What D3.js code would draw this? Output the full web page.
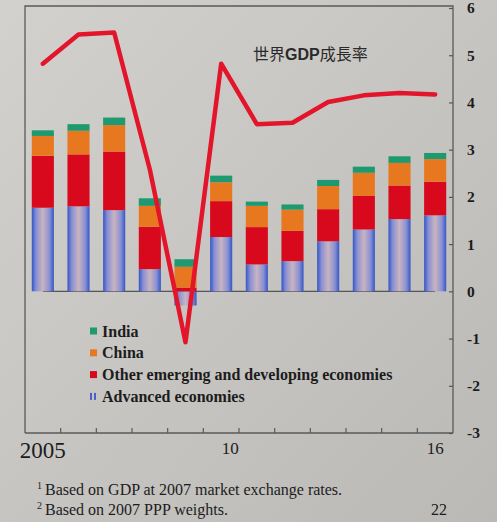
<!DOCTYPE html>
<html>
<head>
<meta charset="UTF-8"/>
<title>世界GDP成長率</title>
<script src="https://cdn.jsdelivr.net/npm/d3@7"></script>
<style>
body { margin: 0; background: #c4c2bf; }
svg { display: block; }
.serif { font-family: 'Liberation Serif', 'DejaVu Serif', serif; fill: #1c1c1c; }
.yaxis text { font-family: 'Liberation Serif', serif; font-weight: bold; font-size: 15.5px; fill: #1c1c1c; }
.yaxis line { stroke: #555; stroke-width: 1.2; }
.legend text { font-family: 'Liberation Serif', serif; font-weight: bold; font-size: 16px; fill: #1c1c1c; }
.title { font-family: 'Noto Sans CJK JP', 'Noto Sans', sans-serif; font-size: 16px; fill: #2a2a2a; }
</style>
</head>
<body>
<svg id="chart" width="497" height="522"></svg>
<script>
// data
const years = [2005, 2006, 2007, 2008, 2009, 2010, 2011, 2012, 2013, 2014, 2015, 2016];
const advanced = [1.77, 1.80, 1.72, 0.47, -0.30, 1.15, 0.57, 0.64, 1.06, 1.31, 1.53, 1.61];
const otherEm  = [1.10, 1.10, 1.24, 0.90, 0.08, 0.76, 0.79, 0.64, 0.68, 0.71, 0.71, 0.71];
const china    = [0.42, 0.50, 0.56, 0.44, 0.44, 0.40, 0.45, 0.45, 0.49, 0.49, 0.48, 0.48];
const india    = [0.12, 0.14, 0.16, 0.16, 0.16, 0.14, 0.09, 0.11, 0.13, 0.13, 0.14, 0.13];
const worldGdp = [4.82, 5.44, 5.48, 2.58, -1.08, 4.82, 3.54, 3.57, 4.01, 4.15, 4.20, 4.17];
const xTickLabels = ['2005', '', '', '', '', '10', '', '', '', '', '', '16'];
const yTicks = [-3, -2, -1, 0, 1, 2, 3, 4, 5, 6];
const seriesNames = ['Advanced economies', 'Other emerging and developing economies', 'China', 'India'];
const legendOrder = ['India', 'China', 'Other emerging and developing economies', 'Advanced economies'];

const svg = d3.select('#chart');
const W = 497, H = 522;
const frameL = 25, frameR = 453, frameT = 6, frameB = 433;

const defs = svg.append('defs');
const bg = defs.append('linearGradient').attr('id', 'bg')
  .attr('x1', '0%').attr('y1', '0%').attr('x2', '100%').attr('y2', '100%');
bg.append('stop').attr('offset', '0%').attr('stop-color', '#d3d1ce');
bg.append('stop').attr('offset', '100%').attr('stop-color', '#bbb9b6');

const adv = defs.append('linearGradient').attr('id', 'adv')
  .attr('x1', '0%').attr('x2', '100%').attr('y1', '0%').attr('y2', '0%');
[['0%', '#3356c6'], ['20%', '#8a90d4'], ['50%', '#c9b4c0'], ['80%', '#8a90d4'], ['100%', '#3356c6']]
  .forEach(s => adv.append('stop').attr('offset', s[0]).attr('stop-color', s[1]));

svg.append('rect').attr('width', W).attr('height', H).attr('fill', 'url(#bg)');

const colors = {
  'Advanced economies': 'url(#adv)',
  'Other emerging and developing economies': '#d8091c',
  'China': '#e8781f',
  'India': '#1f9a70'
};

const x = d3.scaleBand()
  .domain(years)
  .range([frameL, frameR])
  .paddingInner(0.38)
  .paddingOuter(0.19);

const y = d3.scaleLinear()
  .domain([-3, 6])
  .range([433, 8]);

const step = x.step();
const cx = d => x(d) + x.bandwidth() / 2;

// stacked data
const table = years.map((yr, i) => ({
  year: yr,
  'Advanced economies': advanced[i],
  'Other emerging and developing economies': otherEm[i],
  'China': china[i],
  'India': india[i]
}));
const stacked = d3.stack().keys(seriesNames).offset(d3.stackOffsetDiverging)(table);

// zero line from first to last bar centre
svg.append('line')
  .attr('x1', cx(years[0])).attr('x2', cx(years[years.length - 1]))
  .attr('y1', y(0)).attr('y2', y(0))
  .attr('stroke', '#555').attr('stroke-width', 1.2);

svg.append('g').selectAll('g')
  .data(stacked)
  .join('g')
  .attr('fill', d => colors[d.key])
  .selectAll('rect')
  .data(d => d)
  .join('rect')
  .attr('x', d => x(d.data.year))
  .attr('width', x.bandwidth())
  .attr('y', d => y(Math.max(d[0], d[1])))
  .attr('height', d => Math.abs(y(d[0]) - y(d[1])));

// frame
svg.append('path')
  .attr('d', `M${frameL},${frameB}V${frameT}H${frameR}V${frameB}`)
  .attr('fill', 'none').attr('stroke', '#5a5a5a').attr('stroke-width', 1.3);
svg.append('line')
  .attr('x1', frameL).attr('x2', frameR).attr('y1', frameB).attr('y2', frameB)
  .attr('stroke', '#5a5a5a').attr('stroke-width', 1.3);

// right axis, ticks inward
const yAxis = svg.append('g')
  .attr('class', 'yaxis')
  .attr('transform', `translate(${frameR},0)`)
  .call(d3.axisRight(y).tickValues(yTicks).tickSize(-4).tickPadding(14).tickFormat(d => String(d)));
yAxis.select('.domain').remove();
yAxis.selectAll('text').attr('text-anchor', 'start');

// bottom ticks between bars
svg.append('g').selectAll('line')
  .data(years.slice(1))
  .join('line')
  .attr('x1', d => cx(d) - step / 2).attr('x2', d => cx(d) - step / 2)
  .attr('y1', frameB).attr('y2', frameB - 5)
  .attr('stroke', '#5a5a5a').attr('stroke-width', 1.2);

svg.append('g').selectAll('text')
  .data(years.map((yr, i) => ({ yr, label: xTickLabels[i] })).filter(d => d.label))
  .join('text')
  .attr('class', 'serif')
  .attr('x', d => cx(d.yr) + (d.label === '10' ? 9 : 0))
  .attr('y', d => d.label.length > 2 ? 458 : 454)
  .attr('text-anchor', 'middle')
  .attr('font-size', d => d.label.length > 2 ? 23 : 17)
  .text(d => d.label);

// world GDP growth line
const line = d3.line()
  .x((d, i) => cx(years[i]))
  .y(d => y(d));
svg.append('path')
  .datum(worldGdp)
  .attr('d', line)
  .attr('fill', 'none')
  .attr('stroke', '#e3152a')
  .attr('stroke-width', 4.5)
  .attr('stroke-linejoin', 'round')
  .attr('stroke-linecap', 'round');

const title = svg.append('text')
  .attr('class', 'title')
  .attr('x', 253).attr('y', 60);
title.append('tspan').text('世界');
title.append('tspan').attr('font-family', 'Liberation Sans, Arial, sans-serif').attr('font-weight', 'bold').text('GDP');
title.append('tspan').text('成長率');

// legend
const legend = svg.append('g').attr('class', 'legend');
const rows = legend.selectAll('g')
  .data(legendOrder)
  .join('g')
  .attr('transform', (d, i) => `translate(90, ${331 + i * 21.8})`);
rows.each(function (d) {
  const g = d3.select(this);
  if (d === 'Advanced economies') {
    g.append('rect').attr('x', 0).attr('y', -3.5).attr('width', 2).attr('height', 7).attr('fill', '#4a60c8');
    g.append('rect').attr('x', 4).attr('y', -3.5).attr('width', 2).attr('height', 7).attr('fill', '#4a60c8');
  } else {
    g.append('rect').attr('x', 0).attr('y', -3.5).attr('width', 7).attr('height', 7).attr('fill', colors[d]);
  }
  g.append('text').attr('x', 12).attr('y', 5.5).text(d);
});

// footnotes
const notes = [
  { sup: '1', text: 'Based on GDP at 2007 market exchange rates.', y: 495 },
  { sup: '2', text: 'Based on 2007 PPP weights.', y: 515 }
];
notes.forEach(n => {
  svg.append('text').attr('class', 'serif').attr('x', 37).attr('y', n.y - 6).attr('font-size', 10).text(n.sup);
  svg.append('text').attr('class', 'serif').attr('x', 45).attr('y', n.y).attr('font-size', 16).text(n.text);
});
svg.append('text').attr('class', 'serif').attr('x', 447).attr('y', 515)
  .attr('text-anchor', 'end').attr('font-size', 16).text('22');
</script>
</body>
</html>
